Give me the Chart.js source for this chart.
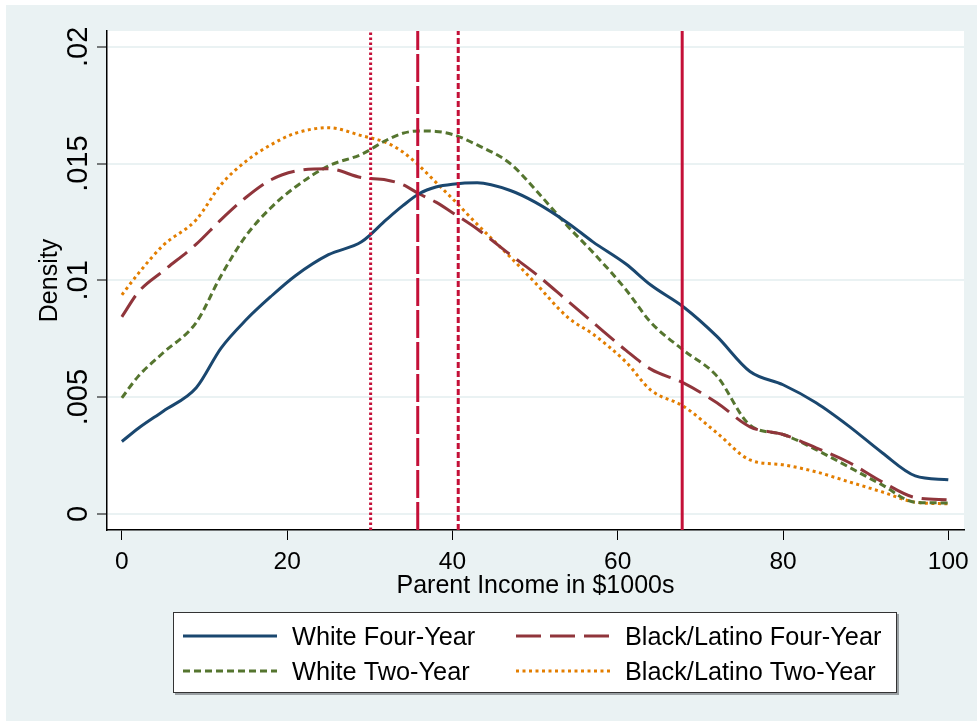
<!DOCTYPE html>
<html>
<head>
<meta charset="utf-8">
<script src="https://cdn.jsdelivr.net/npm/chart.js@4.4.0/dist/chart.umd.min.js"></script>
<style>
  html, body { margin: 0; padding: 0; background: #fff; }
  #wrap { width: 977px; height: 721px; }
</style>
</head>
<body>
<div id="wrap"><canvas id="densityChart" width="977" height="721"></canvas></div>
<script>
// parent income grid ($1000s) and density estimates
const income = [0, 2, 5, 9, 12, 15, 18, 21, 25, 29, 32, 34, 36, 38, 40, 43, 47, 50, 54, 57, 61, 64, 68, 72, 76, 80, 84, 88, 92, 96, 100];
const whiteFour = [0.0031, 0.00367, 0.0044, 0.0054, 0.0071, 0.0083, 0.0093, 0.0102, 0.0111, 0.01165, 0.0126, 0.0132, 0.01372, 0.0140, 0.01412, 0.01418, 0.01385, 0.01335, 0.01245, 0.01165, 0.0107, 0.0098, 0.00885, 0.0076, 0.0061, 0.00553, 0.00476, 0.00375, 0.00262, 0.00163, 0.00146];
const blackLatinoFour = [0.00844, 0.0095, 0.0104, 0.01155, 0.0126, 0.01355, 0.0143, 0.01468, 0.01478, 0.0144, 0.0143, 0.0141, 0.0137, 0.01335, 0.0129, 0.0122, 0.0111, 0.0103, 0.0091, 0.0082, 0.0070, 0.0062, 0.0056, 0.00476, 0.00373, 0.0034, 0.00283, 0.0022, 0.00137, 0.0007, 0.0006];
const whiteTwo = [0.00497, 0.0059, 0.0069, 0.0082, 0.0102, 0.0119, 0.0131, 0.0140, 0.0149, 0.0154, 0.0160, 0.0163, 0.0164, 0.01638, 0.01625, 0.0158, 0.0150, 0.0139, 0.0123, 0.0112, 0.0096, 0.0082, 0.0070, 0.0059, 0.0038, 0.0034, 0.00275, 0.0020, 0.00124, 0.0005, 0.00047];
const blackLatinoTwo = [0.00938, 0.0103, 0.0115, 0.0126, 0.0141, 0.0151, 0.0158, 0.0163, 0.01654, 0.0162, 0.0159, 0.0155, 0.0149, 0.0142, 0.0135, 0.0124, 0.0110, 0.0099, 0.0084, 0.0077, 0.0065, 0.0053, 0.0046, 0.00347, 0.00231, 0.0021, 0.0018, 0.00137, 0.00094, 0.0005, 0.00043];
// reference lines (income in $1000s)
const refLines = [30.1, 35.8, 40.7, 67.8];

const seriesNames = ["White Four-Year", "Black/Latino Four-Year", "White Two-Year", "Black/Latino Two-Year"];
const xTicks = [0, 20, 40, 60, 80, 100];
const yTicks = [0, 0.005, 0.01, 0.015, 0.02];
const yTickLabels = ["0", ".005", ".01", ".015", ".02"];

const xMin = -1.8, xMax = 101.9;
const yMin = -0.00069, yMax = 0.02068;
const FONT = '"Liberation Sans", Arial, sans-serif';

const pts = (ys) => income.map((v, i) => ({ x: v, y: ys[i] }));
const curve = (label, ys, color, dash, width) => ({
  label: label, data: pts(ys), borderColor: color, borderDash: dash,
  borderWidth: width, pointRadius: 0, cubicInterpolationMode: "monotone", order: 1
});
const vline = (v, dash, width) => ({
  label: "ref", data: [{ x: v, y: yMin }, { x: v, y: yMax }], borderColor: "#c41038",
  borderDash: dash, borderWidth: width, pointRadius: 0, order: 0
});

const stataFrame = {
  id: "stataFrame",
  beforeDraw(chart) {
    const { ctx, chartArea: a, width, height } = chart;
    ctx.save();
    ctx.fillStyle = "#ffffff";
    ctx.fillRect(0, 0, width, height);
    ctx.fillStyle = "#eaf2f3";
    ctx.fillRect(6, 5, width - 6, height - 5);
    ctx.fillStyle = "#ffffff";
    ctx.fillRect(a.left, a.top, a.right - a.left, a.bottom - a.top);
    ctx.restore();
  },
  afterDraw(chart) {
    const { ctx, chartArea: a, scales } = chart;
    ctx.save();
    ctx.fillStyle = "#000";
    ctx.textBaseline = "alphabetic";
    ctx.textAlign = "center";

    // x tick labels
    ctx.font = "24.5px " + FONT;
    xTicks.forEach(v => ctx.fillText(String(v), scales.x.getPixelForValue(v), 569));

    // y tick labels, rotated
    ctx.font = "29px " + FONT;
    yTicks.forEach((v, i) => {
      ctx.save();
      ctx.translate(87, scales.y.getPixelForValue(v));
      ctx.rotate(-Math.PI / 2);
      ctx.fillText(yTickLabels[i], 0, 0);
      ctx.restore();
    });

    // axis titles
    ctx.font = "25px " + FONT;
    ctx.fillText("Parent Income in $1000s", (a.left + a.right) / 2, 593);
    ctx.save();
    ctx.translate(57, (a.top + a.bottom) / 2);
    ctx.rotate(-Math.PI / 2);
    ctx.fillText("Density", 0, 0);
    ctx.restore();

    // legend box
    ctx.fillStyle = "#9aa0a3";
    ctx.fillRect(175, 614, 724, 81);
    ctx.fillStyle = "#ffffff";
    ctx.fillRect(173, 612, 724, 81);
    ctx.strokeStyle = "#333";
    ctx.lineWidth = 1;
    ctx.strokeRect(173.5, 612.5, 723, 80);

    const colX = [183, 516];
    const rowY = [636, 671];
    ctx.font = "25.3px " + FONT;
    ctx.textAlign = "left";
    for (let i = 0; i < 4; i++) {
      const ds = chart.data.datasets[i];
      const sx = colX[i % 2], sy = rowY[Math.floor(i / 2)];
      ctx.save();
      ctx.strokeStyle = ds.borderColor;
      ctx.lineWidth = ds.borderWidth;
      ctx.setLineDash(ds.borderDash || []);
      ctx.beginPath();
      ctx.moveTo(sx, sy);
      ctx.lineTo(sx + 94, sy);
      ctx.stroke();
      ctx.restore();
      ctx.fillStyle = "#000";
      ctx.fillText(ds.label, sx + 109, sy + 9);
    }
    ctx.restore();
  }
};

new Chart(document.getElementById("densityChart"), {
  type: "line",
  data: {
    datasets: [
      curve(seriesNames[0], whiteFour, "#1a476f", [], 3),
      curve(seriesNames[1], blackLatinoFour, "#90353b", [25, 9], 3),
      curve(seriesNames[2], whiteTwo, "#55752f", [7, 4], 3),
      curve(seriesNames[3], blackLatinoTwo, "#e37e00", [3, 3.5], 3),
      vline(refLines[0], [2.5, 2.5], 3),
      vline(refLines[1], [28, 4], 3),
      vline(refLines[2], [6, 3], 3),
      vline(refLines[3], [], 3)
    ]
  },
  options: {
    responsive: false,
    animation: false,
    devicePixelRatio: 1,
    layout: { padding: { left: 0, top: 31, right: 13, bottom: 0 } },
    plugins: { legend: { display: false }, tooltip: { enabled: false } },
    scales: {
      x: {
        type: "linear", min: xMin, max: xMax,
        afterBuildTicks: s => { s.ticks = xTicks.map(v => ({ value: v })); },
        afterFit: s => { s.height = 191; },
        ticks: { display: false },
        grid: { drawOnChartArea: false, drawTicks: true, tickLength: 10, tickColor: "#000", tickWidth: 1 },
        border: { color: "#000", width: 1.5 }
      },
      y: {
        type: "linear", min: yMin, max: yMax,
        afterBuildTicks: s => { s.ticks = yTicks.map(v => ({ value: v })); },
        afterFit: s => { s.width = 107; },
        ticks: { display: false },
        grid: { color: "#eaf2f3", lineWidth: 2, drawTicks: true, tickLength: 10, tickColor: "#000", tickWidth: 1 },
        border: { color: "#000", width: 1.5 }
      }
    }
  },
  plugins: [stataFrame]
});
</script>
</body>
</html>
